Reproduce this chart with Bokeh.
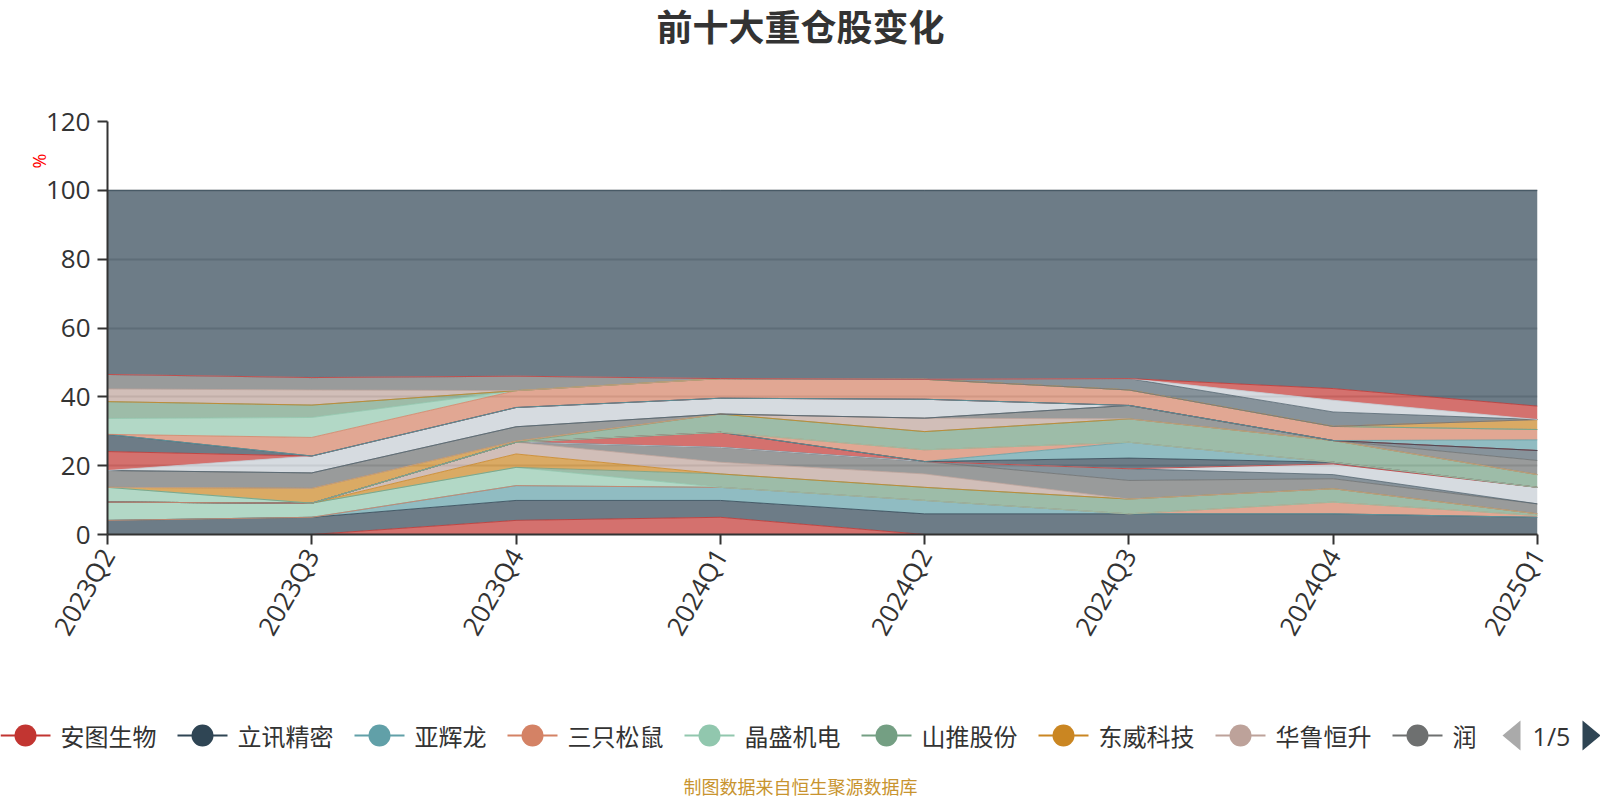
import math
from bokeh.plotting import figure
from bokeh.models import ColumnDataSource, Range1d, FixedTicker, Title
from bokeh.layouts import column
from bokeh.embed import file_html
from bokeh.resources import INLINE
from bokeh.core.properties import value

# ---------------- data ----------------
quarters = ["2023Q2", "2023Q3", "2023Q4", "2024Q1", "2024Q2", "2024Q3", "2024Q4", "2025Q1"]
legend_names = ["安图生物", "立讯精密", "亚辉龙", "三只松鼠", "晶盛机电", "山推股份", "东威科技", "华鲁恒升", "润"]
page_text = "1/5"
title_text = "前十大重仓股变化"
source_note = "制图数据来自恒生聚源数据库"
y_name = "%"
y_ticks = [0, 20, 40, 60, 80, 100, 120]

# holdings (% of net value) per quarter, in stacking order (bottom first)
s00 = [0, 0, 4.1, 5.0, 0, 0, 0, 0]          # 安图生物
s01 = [4.1, 5.0, 5.8, 4.9, 6.0, 6.0, 6.0, 5.0]  # 立讯精密
s02 = [0, 0, 4.3, 3.8, 3.9, 0, 0, 0]        # 亚辉龙
s03 = [0, 0, 0, 0, 0, 0, 3.4, 0.5]          # 三只松鼠
s04 = [5.3, 4.1, 5.3, 0, 0, 0, 0, 0]        # 晶盛机电
s05 = [0, 0, 0, 3.9, 3.8, 4.3, 3.9, 0.5]    # 山推股份
s06 = [0, 0, 3.9, 0, 0, 0, 0, 0]            # 东威科技
s07 = [0, 0, 3.4, 3.4, 3.9, 0, 0, 0]        # 华鲁恒升
s08 = [0, 0, 0, 4.3, 3.6, 5.4, 2.9, 2.9]    # 润…
s09 = [0, 0, 0, 0, 0, 3.4, 1.2, 0]
s10 = [0, 0, 0, 0, 0, 0, 3.1, 4.8]
s11 = [0, 0, 0, 4.4, 0, 0, 0, 0]
s12 = [0, 0, 0, 0, 0, 3.1, 0.5, 0]
s13 = [0, 0, 0, 0, 0, 4.6, 0, 0]
s14 = [0, 0, 0, 0, 3.4, 0, 0, 0]
s15 = [4.3, 0, 0, 0, 0, 0, 0, 0]
s16 = [0, 0, 0, 5.3, 5.3, 6.8, 6.3, 3.7]
s17 = [0, 4.3, 0.3, 0, 0, 0, 0, 0]
s18 = [0, 0, 0, 0, 3.9, 0, 0, 0]
s19 = [4.9, 4.5, 4.2, 0, 0, 3.9, 0, 4.1]
s20 = [0, 0, 0, 0, 0, 0, 0, 2.9]
s21 = [0, 4.9, 5.6, 4.6, 5.5, 0, 0, 0]
s22 = [5.5, 0, 0, 0, 0, 0, 0, 0]
s23 = [5.0, 0, 0, 0, 0, 0, 0, 0]
s24 = [0, 0, 0, 0, 0, 0, 0, 3.1]
s25 = [0, 5.4, 4.9, 5.7, 5.8, 4.5, 4.1, 3.0]
s26 = [4.6, 5.8, 0, 0, 0, 0, 0, 0]
s27 = [4.9, 3.6, 0, 0, 0, 0, 0, 0]
s28 = [0, 0, 0, 0, 0, 0, 0, 2.9]
s29 = [3.7, 4.4, 0, 0, 0, 0, 0, 0]
s30 = [4.2, 3.6, 4.2, 0, 0, 0, 0, 0]
s31 = [0, 0, 0, 0, 0, 3.3, 4.2, 0]
s32 = [0, 0, 0, 0, 0, 0, 3.4, 0]
s33 = [0, 0, 0, 0, 0, 0, 3.4, 3.9]

series = [s00, s01, s02, s03, s04, s05, s06, s07, s08, s09, s10, s11, s12, s13, s14, s15, s16,
          s17, s18, s19, s20, s21, s22, s23, s24, s25, s26, s27, s28, s29, s30, s31, s32, s33]
other = [round(100 - sum(col), 2) for col in zip(*series)]   # 其他
series = series + [other]

palette = ['#c23531', '#2f4554', '#61a0a8', '#d48265', '#91c7ae', '#749f83',
           '#ca8622', '#bda29a', '#6e7070', '#546570', '#c4ccd3']

keys = ["s%02d" % i for i in range(len(series))]
colors = [palette[i % len(palette)] for i in range(len(series))]
data = {"x": list(range(len(quarters)))}
for k, v in zip(keys, series):
    data[k] = v
src = ColumnDataSource(data)

# ---------------- layout constants (page px) ----------------
W = 1600
TITLE_H = 68
MAIN_H = 612
LEG_H = 118
FRAME_L, FRAME_R, FRAME_T, FRAME_B = 107, 1537, 121, 534
MAIN_TOP = TITLE_H
LEG_TOP = TITLE_H + MAIN_H

CJK = "Noto Sans CJK SC"
LAT = "Open Sans"

# ---------------- title strip ----------------
tf = figure(width=W, height=TITLE_H, x_range=Range1d(0, W), y_range=Range1d(TITLE_H, 0),
            output_backend="svg", toolbar_location=None, min_border=0,
            x_axis_location=None, y_axis_location=None)
tf.frame_align = False
tf.outline_line_color = None
tf.grid.visible = False
tf.text(x=[800], y=[24], text=[title_text], text_font=value(CJK), text_font_style="bold",
        text_font_size="36px", text_color="#333333", text_align="center", text_baseline="middle")

# ---------------- main chart ----------------
p = figure(width=W, height=MAIN_H,
           x_range=Range1d(0, len(quarters) - 1), y_range=Range1d(0, 120),
           output_backend="svg", toolbar_location=None,
           min_border_left=FRAME_L, min_border_right=W - FRAME_R,
           min_border_top=FRAME_T - MAIN_TOP, min_border_bottom=MAIN_TOP + MAIN_H - FRAME_B)
p.frame_align = False
p.outline_line_color = None

p.varea_stack(stackers=keys, x="x", color=colors, fill_alpha=0.7, source=src)
p.vline_stack(stackers=keys, x="x", color=colors, line_width=1, line_alpha=0.8, source=src)

p.xaxis.ticker = FixedTicker(ticks=list(range(len(quarters))))
p.xaxis.major_label_overrides = {i: q for i, q in enumerate(quarters)}
p.xaxis.major_label_orientation = math.pi / 3
p.yaxis.ticker = FixedTicker(ticks=y_ticks)
for ax in (p.xaxis[0], p.yaxis[0]):
    ax.axis_line_color = "#333333"
    ax.axis_line_width = 2
    ax.major_tick_line_color = "#333333"
    ax.major_tick_line_width = 2
    ax.major_tick_out = 10
    ax.major_tick_in = 0
    ax.minor_tick_line_color = None
    ax.major_label_text_font = LAT
    ax.major_label_text_font_size = "26px"
    ax.major_label_text_color = "#333333"
p.yaxis.major_label_standoff = 7
p.xaxis.major_label_standoff = 6
p.xgrid.visible = False
p.ygrid.grid_line_color = "#cccccc"
p.ygrid.grid_line_width = 2

# axis name "%" (rotated, near the top of the y axis)
p.add_layout(Title(text=y_name, align="right", offset=32, standoff=-17,
                   text_font=LAT, text_font_size="18px", text_font_style="normal",
                   text_color="#ff0000"), "left")

# ---------------- legend strip ----------------
lg = figure(width=W, height=LEG_H, x_range=Range1d(0, W), y_range=Range1d(LEG_TOP + LEG_H, LEG_TOP),
            output_backend="svg", toolbar_location=None, min_border=0,
            x_axis_location=None, y_axis_location=None)
lg.frame_align = False
lg.outline_line_color = None
lg.grid.visible = False

LY = 735
x = 0.0
lx0, lx1, cx, tx = [], [], [], []
for name in legend_names:
    lx0.append(x)
    lx1.append(x + 50)
    cx.append(x + 25)
    tx.append(x + 60)
    x += 60 + 24 * len(name) + 21
n = len(legend_names)
leg_colors = colors[:n]
lg.segment(x0=lx0, y0=[LY] * n, x1=lx1, y1=[LY] * n, line_color=leg_colors, line_width=2)
lg.scatter(x=cx, y=[LY] * n, size=22, fill_color=leg_colors, line_color=None)
lg.text(x=tx, y=[LY] * n, text=legend_names, text_font=value(CJK), text_font_size="24px",
        text_color="#333333", text_baseline="middle", text_align="left")

# pager
lg.patches(xs=[[1520, 1520, 1502], [1582, 1582, 1600]],
           ys=[[LY - 15, LY + 15, LY], [LY - 15, LY + 15, LY]],
           fill_color=["#aaaaaa", "#2f4554"], line_color=None)
lg.text(x=[1551], y=[LY], text=[page_text], text_font=value(LAT), text_font_size="25px",
        text_color="#333333", text_baseline="middle", text_align="center")

# source note
lg.text(x=[800], y=[785], text=[source_note], text_font=value(CJK), text_font_size="18px",
        text_color="#c8942f", text_baseline="middle", text_align="center")

layout = column(tf, p, lg, spacing=0)
open("out.html", "w").write(file_html(layout, INLINE))
